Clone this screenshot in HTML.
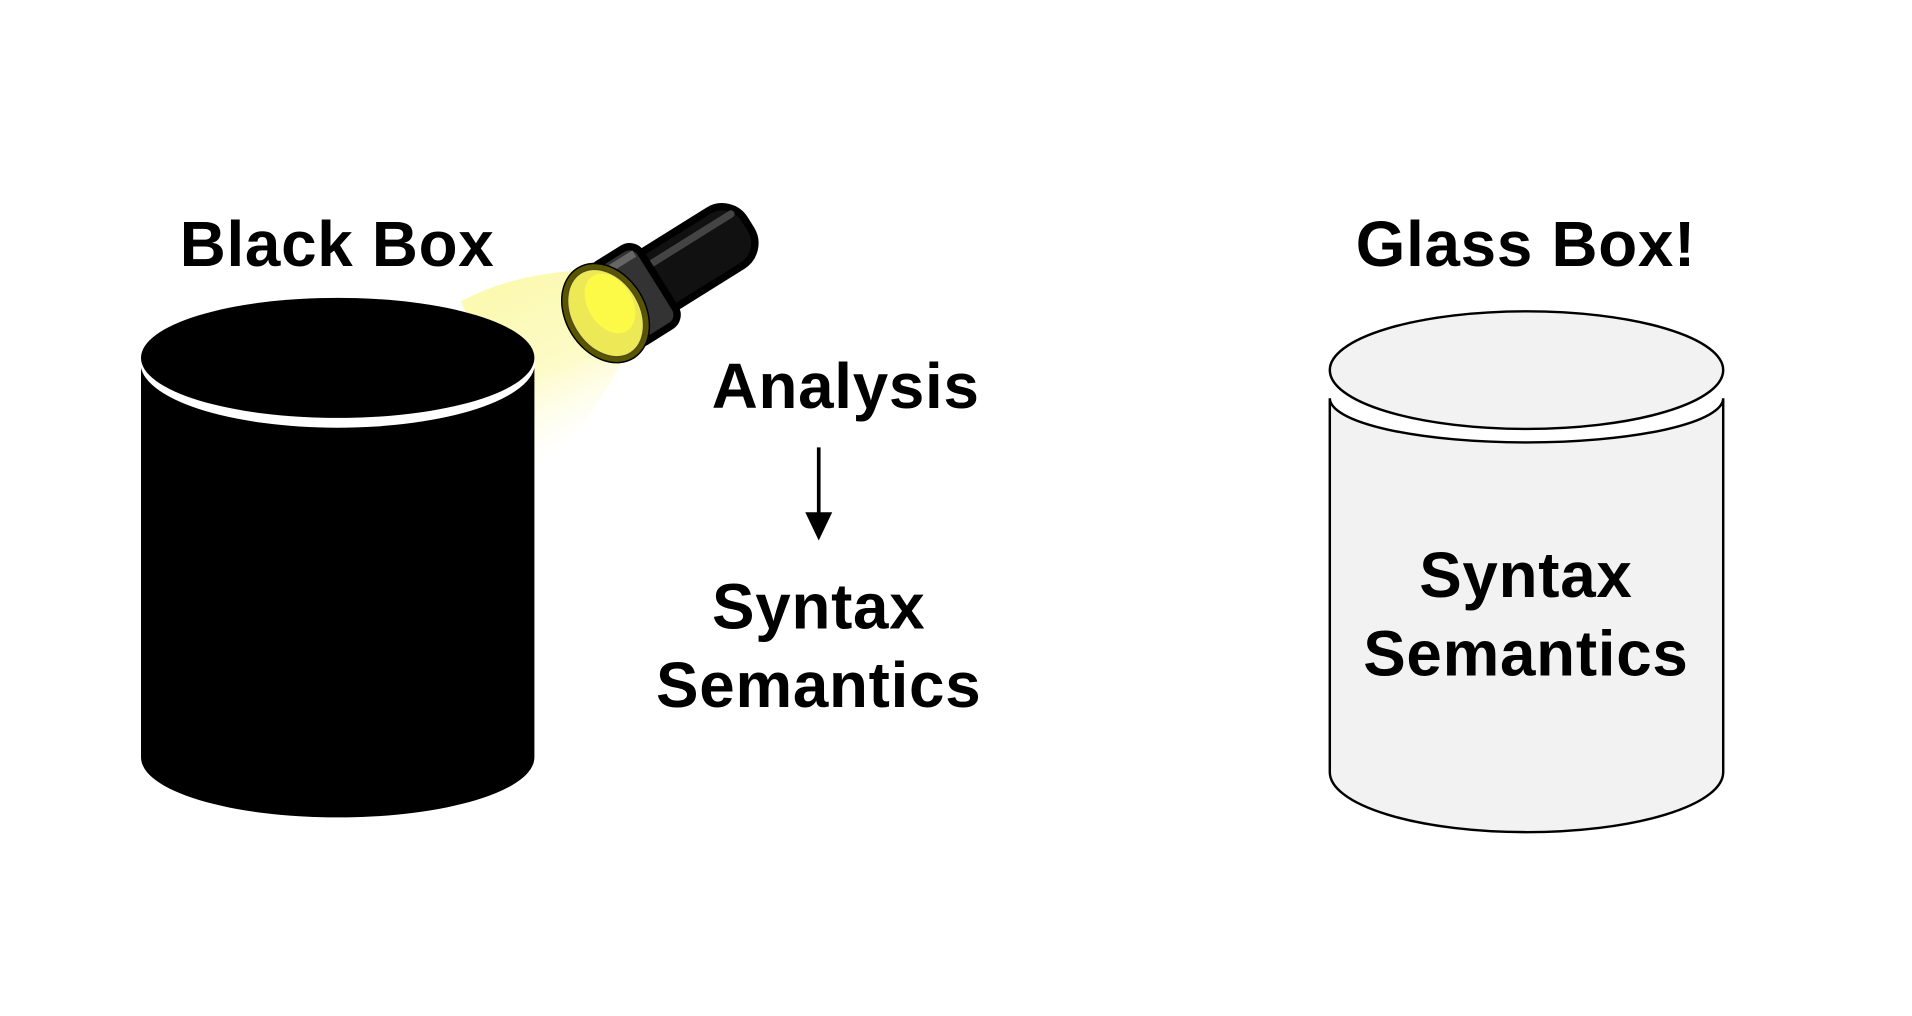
<!DOCTYPE html>
<html><head><meta charset="utf-8"><style>
html,body{margin:0;padding:0;background:#fff;}
svg{display:block;}
text{font-family:"Liberation Sans",Arial,sans-serif;font-weight:bold;fill:#000;letter-spacing:0.6px;}
</style></head><body>
<svg width="1912" height="1016" viewBox="0 0 1560 829" xmlns="http://www.w3.org/2000/svg">
<defs>
<linearGradient id="cone" x1="0" y1="0" x2="0.4" y2="1">
<stop offset="0" stop-color="#fcf8a8"/><stop offset="0.6" stop-color="#fdfbc8"/><stop offset="1" stop-color="#ffffff" stop-opacity="0.3"/>
</linearGradient>
</defs>
<path d="M485 220 Q420 222 376 246 L436 384 Q500 330 520 262 Z" fill="url(#cone)"/>
<path d="M115 300 L436 300 L436 618 A160.5 49 0 0 1 115 618 Z" fill="#000"/>
<ellipse cx="275.5" cy="296" rx="161" ry="53" fill="#fff"/>
<ellipse cx="275.5" cy="292" rx="160.5" ry="49" fill="#000"/>
<g transform="translate(490,258) rotate(-32) scale(1.2)">
<rect x="30" y="-22" width="88" height="44" rx="18" fill="#111" stroke="#000" stroke-width="5"/>
<path d="M40 -12 L112 -12" stroke="#444" stroke-width="5" stroke-linecap="round"/>
<rect x="8" y="-31" width="38" height="62" rx="9" fill="#333" stroke="#000" stroke-width="5"/>
<path d="M14 -24 L42 -24" stroke="#666" stroke-width="5"/>
<ellipse cx="4" cy="0" rx="25" ry="34" fill="#e6e050" stroke="#000" stroke-width="5"/>
<ellipse cx="10" cy="-4" rx="15" ry="22" fill="#fbf73a"/>
<ellipse cx="4" cy="0" rx="25" ry="34" fill="#ffff66" fill-opacity="0.3" stroke="#5a5500" stroke-width="3"/>
</g>
<path d="M1085 325 L1085 630 A160.5 49 0 0 0 1406 630 L1406 325 A160.5 36 0 0 1 1085 325 Z" fill="#f2f2f2" stroke="#000" stroke-width="2"/>
<ellipse cx="1245.5" cy="302" rx="160.5" ry="48" fill="#f2f2f2" stroke="#000" stroke-width="2"/>
<line x1="668" y1="365" x2="668" y2="422" stroke="#000" stroke-width="3"/>
<polygon points="657,418 679,418 668,441" fill="#000"/>
<text x="275" y="217" font-size="52" text-anchor="middle">Black Box</text>
<text x="1245" y="217" font-size="52" text-anchor="middle">Glass Box!</text>
<text x="690" y="333" font-size="52" text-anchor="middle">Analysis</text>
<text x="668" y="513" font-size="52" text-anchor="middle">Syntax</text>
<text x="668" y="577" font-size="52" text-anchor="middle">Semantics</text>
<text x="1245" y="487" font-size="52" text-anchor="middle">Syntax</text>
<text x="1245" y="551" font-size="52" text-anchor="middle">Semantics</text>
</svg>
</body></html>
